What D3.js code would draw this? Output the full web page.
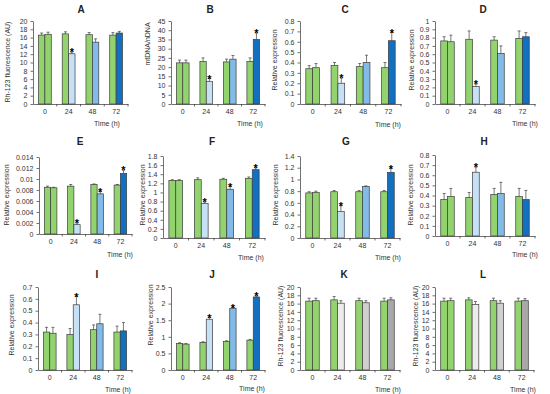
<!DOCTYPE html>
<html><head><meta charset="utf-8">
<script src="https://cdn.jsdelivr.net/npm/d3@7"></script>
<style>body{margin:0;background:#fff}svg{display:block}text{font-family:"Liberation Sans",Arial,sans-serif}</style>
</head><body><svg id="c" width="550" height="394"></svg>
<script>
const times = ["0","24","48","72"];
// Panel data: control (green) and treated values, upward error bars, significance stars
const ctrlA=[16.6,16.9,16.7,16.6], trtA=[16.8,12.1,14.9,17.1], ctrlErrA=[0.5,0.5,0.5,0.6], trtErrA=[0.5,0.4,0.8,0.4], starsA=[0,1,0,0];
const ctrlB=[22.3,23.0,22.8,23.0], trtB=[22.3,12.3,24.3,35.0], ctrlErrB=[1.5,2.0,1.5,2.0], trtErrB=[1.5,1.5,2.0,3.5], starsB=[0,1,0,1];
const ctrlC=[0.34,0.37,0.36,0.35], trtC=[0.35,0.20,0.40,0.61], ctrlErrC=[0.03,0.03,0.03,0.05], trtErrC=[0.04,0.05,0.07,0.08], starsC=[0,1,0,1];
const ctrlD=[0.76,0.78,0.77,0.79], trtD=[0.75,0.21,0.61,0.81], ctrlErrD=[0.05,0.10,0.04,0.09], trtErrD=[0.08,0.03,0.09,0.05], starsD=[0,1,0,0];
const ctrlE=[0.0085,0.0087,0.0090,0.0089], trtE=[0.0084,0.0017,0.0073,0.0110], ctrlErrE=[0.0002,0.0003,0.0001,0.0001], trtErrE=[0.0001,0.0003,0.0004,0.0006], starsE=[0,1,1,1];
const ctrlF=[1.26,1.28,1.29,1.31], trtF=[1.26,0.76,1.07,1.50], ctrlErrF=[0.02,0.04,0.02,0.03], trtErrF=[0.02,0.03,0.06,0.04], starsF=[0,1,1,1];
const ctrlG=[0.77,0.79,0.79,0.79], trtG=[0.78,0.45,0.88,1.12], ctrlErrG=[0.02,0.02,0.02,0.02], trtErrG=[0.02,0.10,0.01,0.07], starsG=[0,1,0,1];
const ctrlH=[0.36,0.38,0.41,0.39], trtH=[0.39,0.63,0.42,0.36], ctrlErrH=[0.06,0.05,0.06,0.08], trtErrH=[0.08,0.05,0.11,0.09], starsH=[0,1,0,0];
const ctrlI=[0.32,0.30,0.34,0.32], trtI=[0.31,0.55,0.39,0.33], ctrlErrI=[0.04,0.05,0.04,0.05], trtErrI=[0.05,0.07,0.08,0.07], starsI=[0,1,0,0];
const ctrlJ=[0.80,0.83,0.86,0.90], trtJ=[0.78,1.53,1.86,2.20], ctrlErrJ=[0.02,0.02,0.02,0.02], trtErrJ=[0.02,0.05,0.03,0.03], starsJ=[0,1,1,1];
const ctrlK=[16.6,16.9,16.7,16.6], trtK=[16.7,16.1,16.2,16.9], ctrlErrK=[0.7,0.8,0.6,0.7], trtErrK=[0.6,0.6,0.5,0.5], starsK=[0,0,0,0];
const ctrlL=[16.6,16.9,16.7,16.6], trtL=[16.7,15.8,16.1,16.7], ctrlErrL=[0.7,0.5,0.6,0.7], trtErrL=[0.6,0.7,0.6,0.5], starsL=[0,0,0,0];
const yLabels = {A:"Rh-123 fluorescence (AU)",B:"mtDNA/nDNA",C:"Relative expression",D:"Relative expression",E:"Relative expression",F:"Relative expression",G:"Relative expression",H:"Relative expression",I:"Relative expression",J:"Relative expression",K:"Rh-123 fluorescence (AU)",L:"Rh-123 fluorescence (AU)"};
const yMaxes = {A:20,B:45,C:0.8,D:1,E:0.014,F:1.8,G:1.4,H:0.8,I:0.7,J:2.5,K:20,L:20};
const ySteps = {A:2,B:5,C:0.1,D:0.1,E:0.002,F:0.2,G:0.2,H:0.1,I:0.1,J:0.5,K:2,L:2};
const xTitle = "Time (h)";

const data = {
 A:[ctrlA,trtA,ctrlErrA,trtErrA,starsA],B:[ctrlB,trtB,ctrlErrB,trtErrB,starsB],C:[ctrlC,trtC,ctrlErrC,trtErrC,starsC],D:[ctrlD,trtD,ctrlErrD,trtErrD,starsD],
 E:[ctrlE,trtE,ctrlErrE,trtErrE,starsE],F:[ctrlF,trtF,ctrlErrF,trtErrF,starsF],G:[ctrlG,trtG,ctrlErrG,trtErrG,starsG],H:[ctrlH,trtH,ctrlErrH,trtErrH,starsH],
 I:[ctrlI,trtI,ctrlErrI,trtErrI,starsI],J:[ctrlJ,trtJ,ctrlErrJ,trtErrJ,starsJ],K:[ctrlK,trtK,ctrlErrK,trtErrK,starsK],L:[ctrlL,trtL,ctrlErrL,trtErrL,starsL]
};

// layout: x0,x1 plot, y0 top tick, y1 baseline, title pos, y label pos, time label pos
const L = {
 A:{x0:33,x1:128,y0:21,y1:104,tx:81,ty:9,lx:8,ly:62,hx:107,hy:124},
 B:{x0:171,x1:265,y0:21,y1:104,tx:210,ty:9,lx:148,ly:44,hx:250,hy:124},
 C:{x0:300,x1:401,y0:21,y1:104,tx:345,ty:9,lx:275,ly:60,hx:388,hy:125},
 D:{x0:435,x1:535,y0:21,y1:104,tx:483,ty:9,lx:412,ly:60,hx:525,hy:124},
 E:{x0:39,x1:132,y0:157,y1:234,tx:80,ty:141,lx:7,ly:195,hx:120,hy:255},
 F:{x0:163,x1:265,y0:156,y1:238,tx:212,ty:141,lx:143,ly:195,hx:251,hy:258},
 G:{x0:300,x1:400,y0:156,y1:238,tx:346,ty:141,lx:276,ly:195,hx:388,hy:258},
 H:{x0:435,x1:535,y0:155,y1:236,tx:484,ty:141,lx:411,ly:195,hx:525,hy:255},
 I:{x0:38,x1:132,y0:287,y1:370,tx:97,ty:274,lx:12,ly:325,hx:118,hy:390},
 J:{x0:171,x1:265,y0:287,y1:370,tx:212,ty:274,lx:151,ly:315,hx:252,hy:389},
 K:{x0:300,x1:400,y0:287,y1:370,tx:344,ty:274,lx:281,ly:326,hx:388,hy:390},
 L:{x0:435,x1:534,y0:287,y1:370,tx:483,ty:274,lx:416,ly:326,hx:523,hy:390}
};
const green="#92d36e";
const blues=[green,"#c6e0f5","#82bbe8","#1170c0"];
const grays=[green,"#ececec","#d0d0d0","#a8a8a8"];
const edge="#3d3d3d";
const fmt=d3.format("~f");
const svg=d3.select("#c");

Object.keys(L).forEach(id=>{
  const p=L[id]; const [ctrl,trt,ce,te,st]=data[id];
  const g=svg.append("g");
  const x=d3.scaleBand().domain(times).range([p.x0,p.x1]);
  const y=d3.scaleLinear().domain([0,yMaxes[id]]).range([p.y1,p.y0]);
  const bw=x.bandwidth();
  const sub=d3.scaleBand().domain(["c","t"]).range([-bw*0.27,bw*0.27]);
  const tcol=(id==="K"||id==="L")?grays:blues;
  // bars
  times.forEach((t,i)=>{
    const cx=x(t)+bw/2;
    const items=[{k:"c",v:ctrl[i],e:ce[i],col:green},{k:"t",v:trt[i],e:te[i],col:tcol[i]}];
    items.forEach(d=>{
      const bx=cx+sub(d.k), w=sub.bandwidth();
      g.append("rect").attr("x",bx).attr("y",y(d.v)).attr("width",w).attr("height",p.y1-y(d.v))
        .attr("fill",d.col).attr("stroke",edge).attr("stroke-width",0.7);
      const mx=bx+w/2;
      g.append("line").attr("x1",mx).attr("x2",mx).attr("y1",y(d.v)).attr("y2",y(d.v+d.e)).attr("stroke",edge).attr("stroke-width",0.7);
      g.append("line").attr("x1",mx-1.5).attr("x2",mx+1.5).attr("y1",y(d.v+d.e)).attr("y2",y(d.v+d.e)).attr("stroke",edge).attr("stroke-width",0.7);
    });
    if(st[i]){
      const bx=cx+sub("t")+sub.bandwidth()/2;
      g.append("text").attr("x",bx).attr("y",y(trt[i]+te[i])+7).attr("text-anchor","middle")
        .attr("font-size",11).attr("font-weight","bold").attr("fill","#000").text("*").attr("dy","-0.25em");
    }
  });
  // y axis
  const ticks=d3.range(0,yMaxes[id]+ySteps[id]/2,ySteps[id]);
  const ya=g.append("g").attr("transform",`translate(${p.x0},0)`)
    .call(d3.axisLeft(y).tickValues(ticks).tickFormat(fmt).tickSize(2.5).tickPadding(3).tickSizeOuter(0));
  ya.selectAll("text").attr("font-size",7).attr("fill","#333").attr("font-family","Liberation Sans, Arial, sans-serif");
  ya.selectAll("line,path").attr("stroke","#333").attr("stroke-width",0.7);
  // x axis
  const xa=g.append("g").attr("transform",`translate(0,${p.y1})`)
    .call(d3.axisBottom(x).tickSize(0).tickPadding(5).tickSizeOuter(0));
  xa.selectAll("text").attr("font-size",7).attr("fill","#333").attr("font-family","Liberation Sans, Arial, sans-serif");
  xa.select("path").attr("stroke","#333").attr("stroke-width",0.7);
  times.forEach((t,i)=>{ if(i>0) g.append("line").attr("x1",x(t)).attr("x2",x(t)).attr("y1",p.y1).attr("y2",p.y1+2.5).attr("stroke","#333").attr("stroke-width",0.7); });
  g.append("line").attr("x1",p.x1).attr("x2",p.x1).attr("y1",p.y1).attr("y2",p.y1+2.5).attr("stroke","#333").attr("stroke-width",0.7);
  // labels
  g.append("text").attr("x",p.tx).attr("y",p.ty+4).attr("text-anchor","middle").attr("font-size",10).attr("font-weight","bold").attr("fill","#222").text(id);
  g.append("text").attr("transform",`translate(${p.lx},${p.ly}) rotate(-90)`).attr("text-anchor","middle").attr("dy","0.35em")
    .attr("font-size",7).attr("fill","#333").text(yLabels[id]);
  g.append("text").attr("x",p.hx).attr("y",p.hy).attr("dy","0.35em").attr("text-anchor","middle").attr("font-size",7).attr("fill","#333").text(xTitle);
});
</script></body></html>
